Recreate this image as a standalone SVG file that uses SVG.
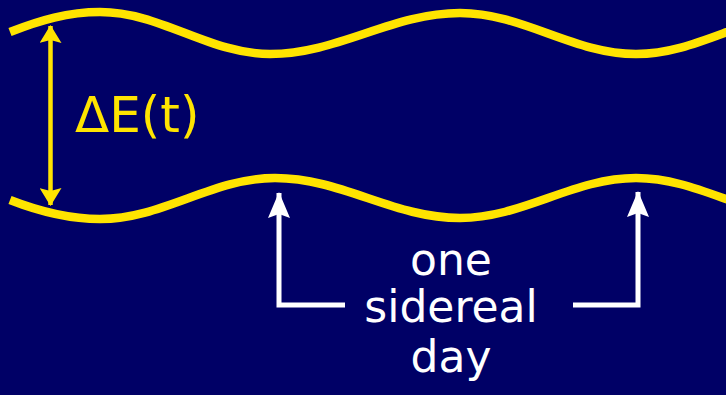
<svg xmlns="http://www.w3.org/2000/svg" width="726" height="395" viewBox="0 0 726 395">
  <style>
    .wave { fill: none; stroke: #FFE400; stroke-width: 8.5; stroke-linecap: butt; }
    .yarrow { fill: none; stroke: #FFE400; stroke-width: 4.5; }
    .warrow { fill: none; stroke: #FFFFFF; stroke-width: 5; stroke-linejoin: miter; }
    .lbl { font-family: "DejaVu Sans", "Liberation Sans", sans-serif; }
    .ylbl { fill: #FFE400; font-size: 50px; }
    .wlbl { fill: #FFFFFF; font-size: 44px; text-anchor: middle; }
  </style>
  <defs>
    <marker id="headY" viewBox="0 0 18 22" refX="17" refY="11" markerWidth="18" markerHeight="22" markerUnits="userSpaceOnUse" orient="auto-start-reverse">
      <path d="M0,0 L18,11 L0,22 L3,11 Z" fill="#FFE400"/>
    </marker>
    <marker id="headW" viewBox="0 0 26 22" refX="25" refY="11" markerWidth="26" markerHeight="22" markerUnits="userSpaceOnUse" orient="auto">
      <path d="M0,0 L26,11 L0,22 L4,11 Z" fill="#FFFFFF"/>
    </marker>
  </defs>
  <rect x="0" y="0" width="726" height="395" fill="#000066"/>
  <g id="top-wave">
    <path class="wave" d="M10,32 C40,20.3 68,12 100,12 C161,12 209,54 270,54 C338,54 392,13 460,13 C523,13 573,54 636,54 C699,54 747,13 810,13"/>
  </g>
  <g id="bottom-wave">
    <path class="wave" d="M10,200 C40,211.7 68,219 100,219 C163,219 212,178 275,178 C342,178 393,218 460,218 C523,218 573,178 636,178 C699,178 747,218 810,218"/>
  </g>
  <g id="connectors">
    <path class="yarrow" d="M50.5,26 V205" marker-start="url(#headY)" marker-end="url(#headY)"/>
    <path class="warrow" d="M345,305 H279 V193" marker-end="url(#headW)"/>
    <path class="warrow" d="M573,305 H638 V192" marker-end="url(#headW)"/>
  </g>
  <g id="label-delta-e">
    <text class="lbl ylbl" x="75" y="132">ΔE(t)</text>
  </g>
  <g id="label-sidereal-day">
    <text class="lbl wlbl" x="451" y="275">one</text>
    <text class="lbl wlbl" x="451" y="322">sidereal</text>
    <text class="lbl wlbl" x="451" y="372">day</text>
  </g>
</svg>
